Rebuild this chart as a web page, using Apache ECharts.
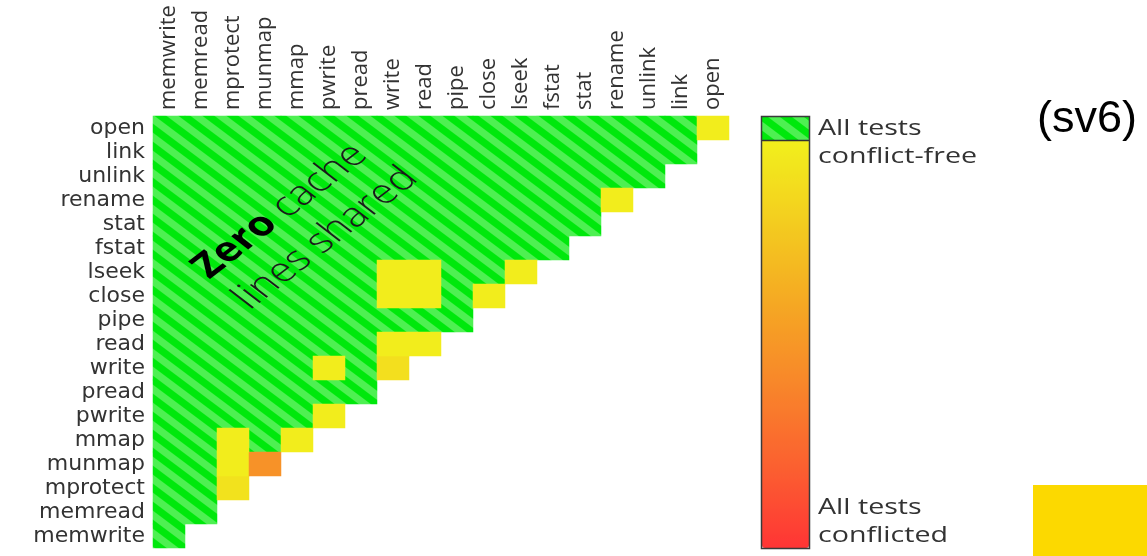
<!DOCTYPE html>
<html>
<head>
<meta charset="utf-8">
<title>sv6 conflict-freedom heatmap</title>
<script src="https://cdn.jsdelivr.net/npm/echarts@6/dist/echarts.min.js"></script>
<style>
  html, body { margin: 0; padding: 0; background: #ffffff; }
  #chart { width: 1147px; height: 556px; }
</style>
</head>
<body>
<div id="chart"></div>
<script>
// System calls: columns left to right, rows bottom to top
const ops = ['memwrite', 'memread', 'mprotect', 'munmap', 'mmap', 'pwrite', 'pread', 'write', 'read',
             'pipe', 'close', 'lseek', 'fstat', 'stat', 'rename', 'unlink', 'link', 'open'];

// Call pairs with at least one conflicting test: row call, column call, fraction of tests conflicted
const conflictRow  = ['open', 'rename', 'lseek', 'lseek', 'lseek', 'close', 'close', 'close', 'read', 'read',
                      'write', 'write', 'pwrite', 'mmap', 'mmap', 'munmap', 'munmap', 'mprotect'];
const conflictCol  = ['open', 'rename', 'write', 'read', 'lseek', 'write', 'read', 'close', 'write', 'read',
                      'pwrite', 'write', 'pwrite', 'mprotect', 'mmap', 'mprotect', 'munmap', 'mprotect'];
const conflictFrac = [0.02, 0.02, 0.02, 0.02, 0.02, 0.02, 0.02, 0.02, 0.02, 0.02,
                      0.02, 0.10, 0.02, 0.02, 0.02, 0.02, 0.53, 0.08];

// Colour-scale captions
const scaleTopText = 'All tests\nconflict-free';
const scaleBottomText = 'All tests\nconflicted';
const systemTag = '(sv6)';

// Diagonal green hatching for conflict-free cells
function makeHatch() {
  const w = 24, h = 18, ss = 4;
  const c = document.createElement('canvas');
  c.width = w; c.height = h;
  const ctx = c.getContext('2d');
  const img = ctx.createImageData(w, h);
  const dark = [0, 232, 12], light = [78, 240, 82];
  for (let y = 0; y < h; y++) {
    for (let x = 0; x < w; x++) {
      let cov = 0;
      for (let sy = 0; sy < ss; sy++) {
        for (let sx = 0; sx < ss; sx++) {
          let f = (x + (sx + 0.5) / ss) / w - (y + (sy + 0.5) / ss) / h;
          f -= Math.floor(f);
          if (f < 0.5) cov++;
        }
      }
      const t = cov / (ss * ss);
      const i = (y * w + x) * 4;
      for (let k = 0; k < 3; k++) img.data[i + k] = Math.round(dark[k] * t + light[k] * (1 - t));
      img.data[i + 3] = 255;
    }
  }
  ctx.putImageData(img, 0, 0);
  return { image: c, repeat: 'repeat' };
}
const hatch = makeHatch();

// Lower-triangular matrix: row j holds columns 0..j
const conflictMap = {};
conflictRow.forEach((r, k) => { conflictMap[r + '|' + conflictCol[k]] = conflictFrac[k]; });
const freeCells = [];
const conflictCells = [];
ops.forEach((row, j) => {
  ops.forEach((col, i) => {
    if (i > j) return;
    const key = row + '|' + col;
    if (key in conflictMap) conflictCells.push([i, j, conflictMap[key]]);
    else freeCells.push([i, j, 0]);
  });
});

const labelFont = 'Open Sans';
const chart = echarts.init(document.getElementById('chart'), null, { renderer: 'canvas' });

chart.setOption({
  backgroundColor: '#ffffff',
  animation: false,
  grid: { left: 153, top: 116, width: 576, height: 432, containLabel: false },
  xAxis: {
    type: 'category',
    position: 'top',
    data: ops,
    axisLine: { show: false },
    axisTick: { show: false },
    splitLine: { show: false },
    axisLabel: { rotate: -90, interval: 0, margin: 6, fontSize: 22, fontFamily: labelFont, color: '#333333' }
  },
  yAxis: {
    type: 'category',
    data: ops,
    axisLine: { show: false },
    axisTick: { show: false },
    splitLine: { show: false },
    axisLabel: { interval: 0, margin: 8, fontSize: 22, fontFamily: 'DejaVu Sans', color: '#333333' }
  },
  visualMap: {
    type: 'continuous',
    seriesIndex: 1,
    min: 0,
    max: 1,
    inverse: true,
    orient: 'vertical',
    calculable: false,
    hoverLink: false,
    left: 762,
    top: 140,
    padding: 0,
    itemWidth: 47,
    itemHeight: 408,
    inRange: { color: ['#f2f01c', '#f3cd1f', '#f5a823', '#f8862a', '#fb6030', '#ff3535'] }
  },
  series: [
    {
      name: 'conflict-free',
      type: 'heatmap',
      data: freeCells,
      silent: true,
      itemStyle: { color: hatch },
      emphasis: { disabled: true }
    },
    {
      name: 'conflicted',
      type: 'heatmap',
      data: conflictCells,
      silent: true,
      emphasis: { disabled: true }
    }
  ],
  graphic: [
    // conflict-free swatch on top of the colour scale
    { type: 'rect', shape: { x: 762, y: 117, width: 47, height: 23 }, style: { fill: hatch }, z: 50 },
    { type: 'line', shape: { x1: 761, y1: 140.5, x2: 810, y2: 140.5 }, style: { stroke: '#333333', lineWidth: 1.5 }, z: 60 },
    { type: 'rect', shape: { x: 761.5, y: 116.5, width: 48, height: 432 }, style: { fill: 'none', stroke: '#3a3a3a', lineWidth: 1.5 }, z: 60 },
    {
      type: 'group', x: 818, y: 115, scaleX: 1.3, z: 60,
      children: [{ type: 'text', x: 0, y: 0, z: 60, style: { text: scaleTopText, fontSize: 22, fontFamily: labelFont, lineHeight: 28, fill: '#333333', align: 'left', verticalAlign: 'top' } }]
    },
    {
      type: 'group', x: 818, y: 494, scaleX: 1.3, z: 60,
      children: [{ type: 'text', x: 0, y: 0, z: 60, style: { text: scaleBottomText, fontSize: 22, fontFamily: labelFont, lineHeight: 28, fill: '#333333', align: 'left', verticalAlign: 'top' } }]
    },
    // annotation across the conflict-free region
    {
      type: 'group', x: 180, y: 257, scaleX: 1.3, z: 100,
      children: [{
        type: 'text', x: 0, y: 0, rotation: Math.PI / 4, z: 100,
        style: {
          text: '{b|Zero} cache\nlines shared',
          fontSize: 34, fontWeight: 300, fontFamily: labelFont, lineHeight: 44, fill: '#1a1a1a',
          align: 'left', verticalAlign: 'top',
          rich: {
            b: { fontSize: 34, fontWeight: 'bold', fontFamily: labelFont, lineHeight: 44, fill: '#000000' }
          }
        }
      }]
    },
    {
      type: 'text', x: 1087, y: 120, z: 60,
      style: { text: systemTag, fontSize: 45, fontFamily: 'Liberation Sans', fill: '#000000', align: 'center', verticalAlign: 'middle' }
    },
    { type: 'rect', shape: { x: 1033, y: 485, width: 114, height: 71 }, style: { fill: '#fcd900' }, z: 60 }
  ]
});
</script>
</body>
</html>
